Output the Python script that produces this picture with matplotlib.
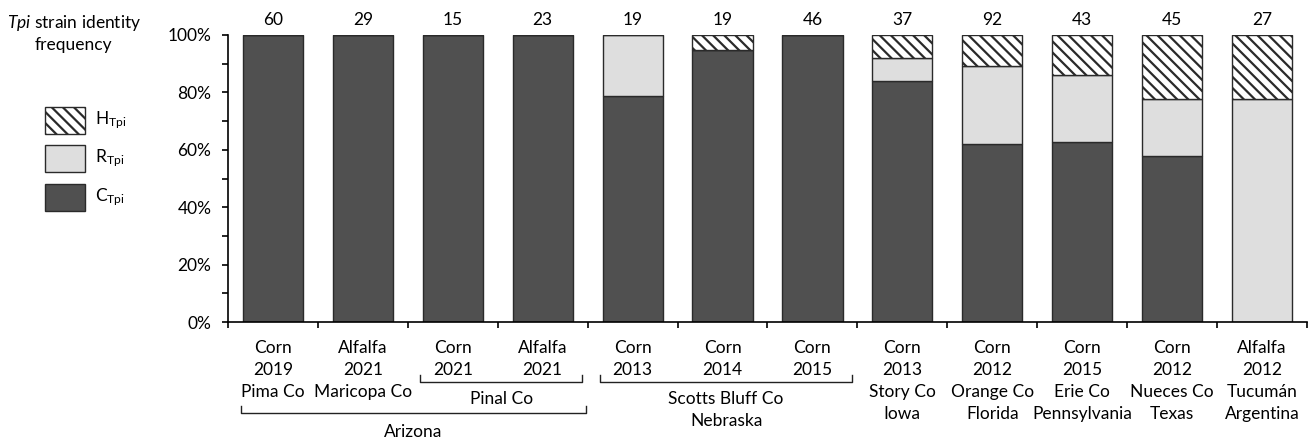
import matplotlib.pyplot as plt
import matplotlib.patches as mpatches
import numpy as np

plt.rcParams['font.family'] = ['Lato', 'DejaVu Sans']
plt.rcParams['mathtext.fontset'] = 'custom'
plt.rcParams['mathtext.rm'] = 'Lato'
plt.rcParams['mathtext.it'] = 'Lato:italic'
plt.rcParams['hatch.linewidth'] = 1.6

# samples per collection
crops = ['Corn', 'Alfalfa', 'Corn', 'Alfalfa', 'Corn', 'Corn', 'Corn',
         'Corn', 'Corn', 'Corn', 'Corn', 'Alfalfa']
years = ['2019', '2021', '2021', '2021', '2013', '2014', '2015',
         '2013', '2012', '2015', '2012', '2012']
sites = ['Pima Co', 'Maricopa Co', '', '', '', '', '',
         'Story Co\nIowa', 'Orange Co\nFlorida', 'Erie Co\nPennsylvania',
         'Nueces Co\nTexas', 'Tucumán\nArgentina']
n_samples = [60, 29, 15, 23, 19, 19, 46, 37, 92, 43, 45, 27]

# strain frequencies in %
C_tpi = [100, 100, 100, 100, 78.9, 94.7, 100, 83.8, 62.0, 62.8, 57.8, 0]
R_tpi = [0, 0, 0, 0, 21.1, 0, 0, 8.1, 27.2, 23.3, 20.0, 77.8]
H_tpi = [0, 0, 0, 0, 0, 5.3, 0, 8.1, 10.9, 14.0, 22.2, 22.2]

# brackets under the labels: text, first bar, last bar
groups = [('Pinal Co', 2, 3), ('Scotts Bluff Co\nNebraska', 4, 6), ('Arizona', 0, 3)]

dark = '#505050'
light = '#dedede'
edge = '#2a2a2a'
fs = 12.5
lsp = 1.45

fig = plt.figure(figsize=(13.15, 4.4), dpi=100)
ax = fig.add_axes([0.1734, 0.268, 0.8205, 0.6525])

x = np.arange(len(n_samples))
C = np.array(C_tpi)
R = np.array(R_tpi)
H = np.array(H_tpi)
w = 0.67
ax.bar(x, C, w, color=dark, edgecolor=edge, linewidth=1)
ax.bar(x, R, w, bottom=C, color=light, edgecolor=edge, linewidth=1)
ax.bar(x, H, w, bottom=C + R, color='white', edgecolor=edge, linewidth=1, hatch='\\\\\\')

for i, n in enumerate(n_samples):
    ax.annotate(str(n), (i, 100), xytext=(0, 5), textcoords='offset points',
                ha='center', va='bottom', fontsize=fs)

ax.set_xlim(-0.5, len(n_samples) - 0.5)
ax.set_ylim(0, 100)
ax.spines['top'].set_visible(False)
ax.spines['right'].set_visible(False)
ax.spines['left'].set_linewidth(1.2)
ax.spines['bottom'].set_linewidth(1.2)

ax.set_yticks(np.arange(0, 101, 20))
ax.set_yticks(np.arange(10, 100, 20), minor=True)
ax.set_yticklabels(['%d%%' % v for v in range(0, 101, 20)], fontsize=fs)
ax.tick_params(axis='y', which='both', length=4, width=1.2, pad=8)

labels = []
for c, y, s in zip(crops, years, sites):
    lab = c + '\n' + y
    if s:
        lab += '\n' + s
    labels.append(lab)
ax.set_xticks(np.arange(-0.5, len(n_samples)), labels=[''] * (len(n_samples) + 1))
ax.set_xticks(x, labels=labels, minor=True)
ax.tick_params(axis='x', which='major', length=4, width=1.2)
ax.tick_params(axis='x', which='minor', length=0, pad=13, labelsize=fs)
for t in ax.get_xticklabels(minor=True):
    t.set_linespacing(lsp)

# group brackets
tr = ax.get_xaxis_transform()
for name, a, b in groups:
    if name == 'Arizona':
        x0, x1, yl, yt, ytxt = a - 0.36, b + 0.48, -0.317, -0.293, -0.355
    else:
        x0, x1, yl, yt, ytxt = a - 0.36, b + 0.44, -0.209, -0.186, -0.24
    ax.plot([x0, x0, x1, x1], [yt, yl, yl, yt], color='#222222', lw=1,
            transform=tr, clip_on=False)
    ax.text((x0 + x1) / 2, ytxt, name, transform=tr, ha='center', va='top',
            fontsize=fs, linespacing=lsp)

# legend
fig.text(0.0563, 0.947, r'$\it{Tpi}$ strain identity', ha='center', va='center', fontsize=fs)
fig.text(0.0555, 0.898, 'frequency', ha='center', va='center', fontsize=fs)
boxes = [('H', 'white', '\\\\\\', 107), ('R', light, None, 145), ('C', dark, None, 184)]
for lab, col, hat, top in boxes:
    r = mpatches.Rectangle((45 / 1315, 1 - (top + 27) / 440), 40 / 1315, 27 / 440,
                           transform=fig.transFigure, facecolor=col, edgecolor=edge,
                           linewidth=1, hatch=hat)
    fig.add_artist(r)
    fig.text(95 / 1315, 1 - (top + 13) / 440, lab + r'$_{\rm Tpi}$', ha='left',
             va='center', fontsize=fs)

fig.savefig('out.png', dpi=100)
